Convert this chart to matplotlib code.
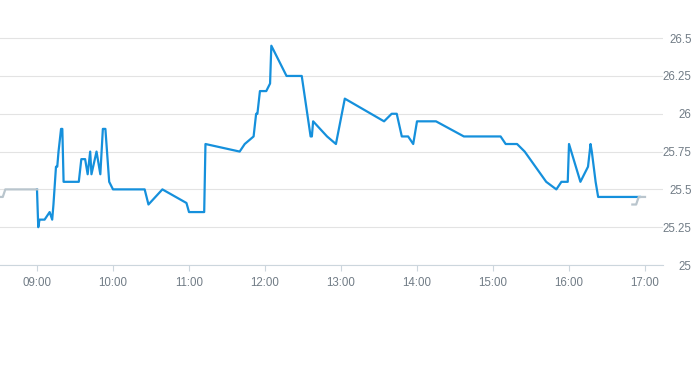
import pandas as pd
import matplotlib
matplotlib.use('Agg')
import matplotlib.pyplot as plt
import matplotlib.dates as mdates
from matplotlib.ticker import FuncFormatter

# sesja (niebieska linia)
czas_sesji = ['09:00', '09:01', '09:02', '09:06', '09:10', '09:12', '09:13', '09:15', '09:16',
              '09:17', '09:19', '09:20', '09:21', '09:33', '09:35', '09:38', '09:40', '09:42',
              '09:43', '09:47', '09:50', '09:52', '09:54', '09:57', '10:00', '10:25', '10:28',
              '10:39', '10:58', '11:00', '11:12', '11:13', '11:40', '11:44', '11:51', '11:53',
              '11:54', '11:56', '12:01', '12:04', '12:05', '12:17', '12:29', '12:36', '12:37',
              '12:38', '12:49', '12:56', '13:03', '13:34', '13:40', '13:44', '13:48', '13:53',
              '13:57', '14:00', '14:15', '14:37', '15:06', '15:10', '15:19', '15:25', '15:42',
              '15:50', '15:54', '15:59', '16:00', '16:09', '16:15', '16:17', '16:18', '16:21',
              '16:23', '16:56']
kurs_sesji = [25.5, 25.25, 25.3, 25.3, 25.35, 25.3, 25.4, 25.65, 25.65,
              25.75, 25.9, 25.9, 25.55, 25.55, 25.7, 25.7, 25.6, 25.75,
              25.6, 25.75, 25.6, 25.9, 25.9, 25.55, 25.5, 25.5, 25.4,
              25.5, 25.41, 25.35, 25.35, 25.8, 25.75, 25.8, 25.85, 26.0,
              26.0, 26.15, 26.15, 26.2, 26.45, 26.25, 26.25, 25.85, 25.85,
              25.95, 25.85, 25.8, 26.1, 25.95, 26.0, 26.0, 25.85, 25.85,
              25.8, 25.95, 25.95, 25.85, 25.85, 25.8, 25.8, 25.75, 25.55,
              25.5, 25.55, 25.55, 25.8, 25.55, 25.65, 25.8, 25.75, 25.55,
              25.45, 25.45]

# przed i po sesji (szara linia)
czas_przed = ['08:30', '08:33', '08:35', '09:00']
kurs_przed = [25.45, 25.45, 25.5, 25.5]
czas_po = ['16:50', '16:53', '16:55', '17:00']
kurs_po = [25.4, 25.4, 25.45, 25.45]

godziny = ['09:00', '10:00', '11:00', '12:00', '13:00', '14:00', '15:00', '16:00', '17:00']
poziomy = [25, 25.25, 25.5, 25.75, 26, 26.25, 26.5]


def na_czas(lista):
    return pd.to_datetime(['2024-01-02 ' + t for t in lista])


fig = plt.figure(figsize=(6.93, 3.65), dpi=100)
ax = fig.add_axes([0, 100 / 365, 663 / 693, 245 / 365])

ax.plot(na_czas(czas_sesji), kurs_sesji, color='#1590dc', linewidth=1.6, zorder=3)
ax.plot(na_czas(czas_przed), kurs_przed, color='#b9c5cd', linewidth=1.6, zorder=4)
ax.plot(na_czas(czas_po), kurs_po, color='#b9c5cd', linewidth=1.6, zorder=4)

start = pd.Timestamp('2024-01-02 09:00') - pd.Timedelta(minutes=29.2)
koniec = pd.Timestamp('2024-01-02 17:00') + pd.Timedelta(minutes=14.2)
ax.set_xlim(start, koniec)
ax.set_ylim(25, 26.62)

ax.set_xticks(na_czas(godziny))
ax.xaxis.set_major_formatter(mdates.DateFormatter('%H:%M'))
ax.set_yticks(poziomy)
ax.yaxis.set_major_formatter(FuncFormatter(lambda v, p: f'{v:g}'))
ax.yaxis.tick_right()

ax.grid(axis='y', color='#e3e3e3', linewidth=0.8)
ax.set_axisbelow(True)
for s in ['top', 'left', 'right']:
    ax.spines[s].set_visible(False)
ax.spines['bottom'].set_color('#ccd6dd')
ax.spines['bottom'].set_linewidth(0.8)

ax.tick_params(axis='x', length=4, width=0.8, color='#ccd6dd', labelcolor='#717c86',
               labelsize=8.3, pad=5)
ax.tick_params(axis='y', length=0, labelcolor='#717c86', labelsize=8.3, pad=20.5)
for lab in ax.get_yticklabels():
    lab.set_horizontalalignment('right')
for lab in ax.get_xticklabels() + ax.get_yticklabels():
    lab.set_fontfamily(['Liberation Sans', 'DejaVu Sans'])

fig.savefig('out.png', dpi=100)
